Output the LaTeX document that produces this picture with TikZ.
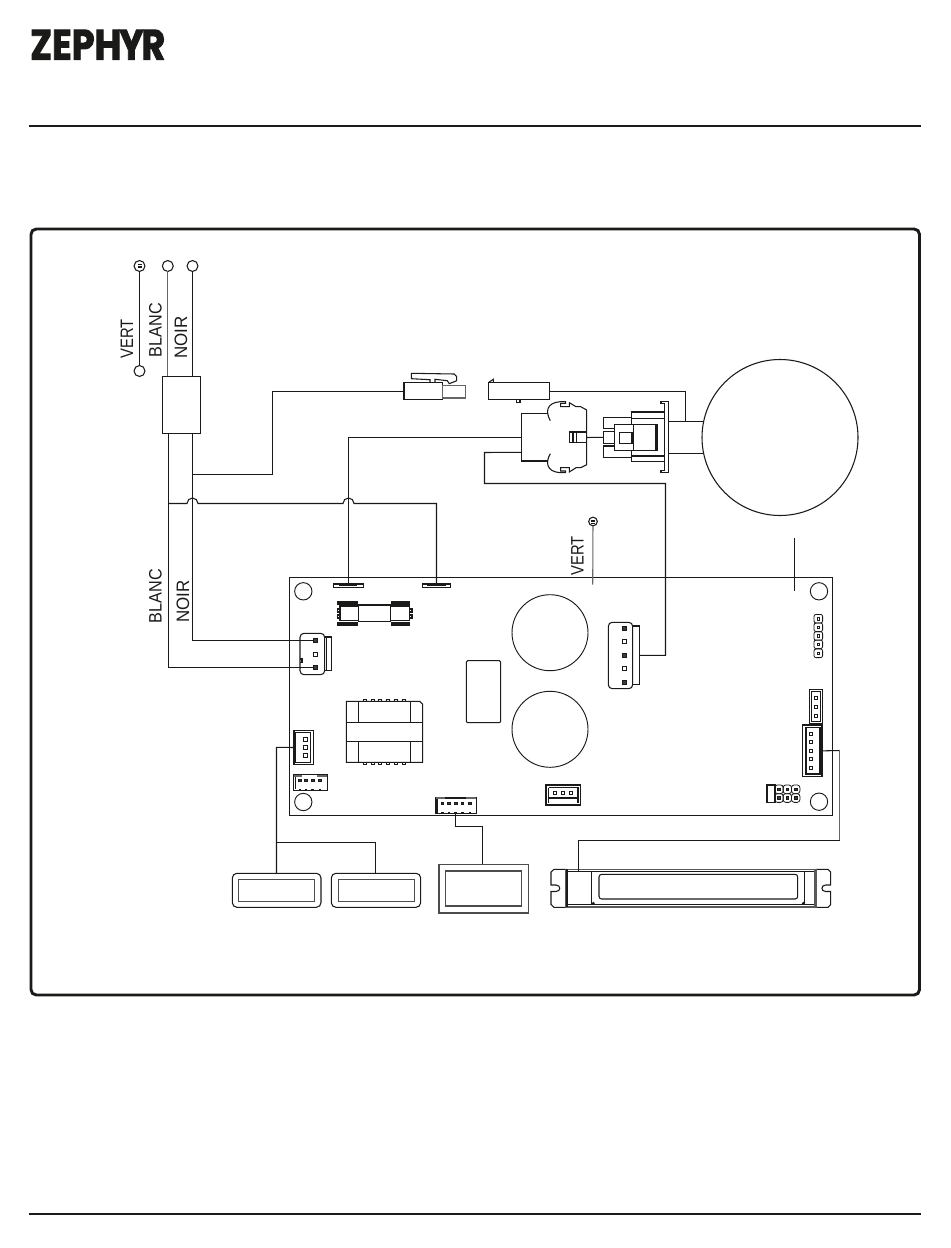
\documentclass[tikz,border=0pt]{standalone}
\usepackage{graphicx}
\usepackage{fontspec}
\setmainfont{Liberation Sans}
\newfontfamily\logofont{Poppins}[BoldFeatures={FakeBold=2.2}]
\usetikzlibrary{calc}
\definecolor{inkdark}{HTML}{1A1A18}
\tikzset{
    thinline/.style={line width=.8pt, color=inkdark},
    greyline/.style={line width=.8pt, color=black!60},
    partbox/.style={draw=inkdark, line width=.8pt, rectangle, inner sep=0pt, outer sep=0pt, anchor=north west},
    sized/.style 2 args={minimum width=#1*.75pt, minimum height=#2*.75pt},
    ringmark/.style={draw=inkdark, line width=.8pt, fill=white, circle, inner sep=0pt, outer sep=0pt, minimum size=8.2pt},
    holemark/.style={draw=inkdark, line width=.7pt, circle, inner sep=0pt, outer sep=0pt, minimum size=13pt},
    pinopen/.style={draw=inkdark, line width=.6pt, rectangle, inner sep=0pt, outer sep=0pt, minimum size=3pt},
    pinfull/.style={pinopen, fill=inkdark!85},
    wirelabel/.style={rotate=90, text=inkdark, font=\fontsize{13.5}{14}\selectfont, inner sep=0pt},
}
\newcommand{\narrowtext}[2][.82]{\scalebox{#1}[1]{#2}}
\begin{document}
\begin{tikzpicture}[x=.75pt, y=-.75pt]
    \useasboundingbox (0,0) rectangle (950,1248);
    % header and frame
    \node[anchor=north west, inner sep=0pt, text=inkdark] (logo) at (30,29.5) {\resizebox{101.25pt}{22.5pt}{\logofont\bfseries ZEPH\kern-.06em Y\kern-.06em R}};
    \coordinate (topleft) at (29,126);
    \coordinate (topright) at (921,126);
    \coordinate (footleft) at (29,1214);
    \coordinate (footright) at (921,1214);
    \draw[inkdark, line width=1.5pt] (topleft) -- (topright);
    \draw[inkdark, line width=1.5pt] (footleft) -- (footright);
    \draw[inkdark, line width=2.2pt, rounded corners=4pt] (31,229) rectangle (919.5,995);

    % supply wires
    \node[ringmark] (ringgreen) at (139.5,266) {};
    \draw[inkdark, line width=.35pt] (137.5,264.4) -- (141.5,264.4) (137.5,266) -- (141.5,266) (137.5,267.6) -- (141.5,267.6);
    \node[ringmark] (ringground) at (139.5,371) {};
    \node[ringmark] (ringwhite) at (167.8,266) {};
    \node[ringmark] (ringblack) at (192.5,266) {};
    \node[partbox, sized={38}{57}] (choke) at (162.3,376.3) {};
    \draw[thinline] (ringgreen) -- (ringground);
    \draw[greyline] (ringwhite) -- (ringwhite |- choke.north);
    \draw[thinline] (ringblack) -- (ringblack |- choke.north);
    \node[wirelabel] (labelvert) at (127,339) {\narrowtext{VERT}};
    \node[wirelabel] (labelblanc) at (155.5,330) {\narrowtext[.9]{BLANC}};
    \node[wirelabel] (labelnoir) at (181,337.5) {\narrowtext[.94]{NOIR}};
    \node[wirelabel] (labelblanctwo) at (155.5,596) {\narrowtext[.9]{BLANC}};
    \node[wirelabel] (labelnoirtwo) at (183,601.5) {\narrowtext[.94]{NOIR}};
    \node[wirelabel] (labelverttwo) at (577.5,556) {\narrowtext{VERT}};

    % plugs
    \node[partbox, sized={38.3}{17}] (plugleft) at (404,382.7) {};
    \node[partbox, draw=black!60, sized={23.4}{12.7}] (plugtail) at (442.3,385.3) {};
    \draw[thinline] (430,382.7) -- (430,379.7) -- (411.3,378.7) -- (411.3,373.3) -- (454,374) -- (456.7,376.7) -- (456.7,380.7) -- (449.3,383.7) -- (447.3,380.7) -- (435,379.3) -- (435,382.7);
    \node[partbox, sized={61}{17}] (plugright) at (488.3,382.7) {};
    \draw[thinline] (488.3,382.7) -- (493.3,379.3) -- (493.3,382.7);
    \draw[thinline] (516.7,399.7) rectangle (520,402.3);

    % motor
    \node[draw=inkdark, line width=.8pt, circle, inner sep=0pt, outer sep=0pt, minimum size=117pt] (motor) at (780,437.5) {};
    \node[partbox, sized={28}{11.4}] (housetop) at (603.3,417.3) {};
    \node[partbox, sized={11}{12}] (housemid) at (603.3,431.3) {};
    \node[partbox, sized={28}{11.3}] (housebot) at (603.3,446) {};
    \node[partbox, fill=white, sized={43}{26.4}] (housebody) at (614.3,424.3) {};
    \node[partbox, sized={12.7}{11.4}] (housecore) at (619.3,432.3) {};
    \draw[thinline] (633.3,424.3) -- (633.3,450.7);
    \draw[inkdark, line width=1.4pt] (656.3,424.3) -- (656.3,450.7);
    \node[partbox, sized={33}{6.3}] (barupper) at (631.3,412) {};
    \node[partbox, sized={33}{5.3}] (barlower) at (631.3,456) {};
    \draw[inkdark, line width=1.4pt] (631.3,412) -- (664.3,412);
    \draw[thinline] (664.3,403.3) -- (661,403.3) -- (661,401.3) -- (668.3,401.3) -- (668.3,472.7) -- (661,472.7) -- (661,470.7) -- (664.3,470.7) -- cycle;
    % socket outline
    \coordinate (socketw) at (521.3,437.5);
    \coordinate (socketlow) at (521.3,452.3);
    \coordinate (sockete) at (586.7,437.5);
    \draw[thinline] (550.3,420.7) .. controls (545.5,412) and (546,403) .. (560,401.7) -- (565.7,401.7) -- (565.7,403.3) -- (560.7,403.3) -- (560.7,406.7) -- (569.3,406.7) -- (569.3,402.7) -- (576,406.7) -- (580.7,406.7) -- (586.7,410) -- (586.7,464.7) -- (580.7,467.7) -- (576,467.7) -- (569.3,472) -- (569.3,467.7) -- (560.7,467.7) -- (560.7,471) -- (565.7,471) -- (565.7,472.7) -- (560,472.7) .. controls (546,471.5) and (545.5,462) .. (550.3,453.7);
    \draw[thinline] (547.7,413.3) -- (521.3,413.3) -- (521.3,461) -- (547.7,461);
    \node[partbox, sized={17.4}{10.3}] (socketpin) at (569.3,432) {};
    \draw[thinline] (573,432) -- (573,442.3);
    \draw[inkdark, line width=1.1pt] (576.7,432) -- (576.7,442.3);

    % board
    \node[partbox, sized={543}{238.4}] (board) at (289.3,577.3) {};
    \node[holemark] (holenw) at (303.3,591.3) {};
    \node[holemark] (holesw) at (303.3,802) {};
    \node[holemark] (holene) at (819,591.3) {};
    \node[holemark] (holese) at (819,801.7) {};
    \node[partbox, sized={30.4}{3.3}] (tableft) at (333.3,584) {};
    \node[partbox, sized={28.4}{3.3}] (tabright) at (422.3,584) {};
    \draw[inkdark, line width=1pt] (339,585.6) -- (357,585.6) (427,585.6) -- (446,585.6);
    % fuse
    \draw[thinline] (340,606) rectangle (358.3,620.5);
    \draw[thinline] (390.7,606) rectangle (409.7,620.5);
    \node[partbox, sized={32.4}{16.7}] (fusetube) at (358.3,605) {};
    \draw[inkdark, line width=2.6pt] (337.3,602.8) -- (358.3,602.8) (337.3,623.8) -- (358.3,623.8) (390.7,602.8) -- (409.7,602.8) (390.7,623.8) -- (409.7,623.8);
    \draw[thinline] (340,609) -- (337.5,609) -- (337.5,612) -- (340,612) (340,615) -- (337.5,615) -- (337.5,618) -- (340,618);
    \draw[thinline] (409.7,609) -- (412,609) -- (412,612) -- (409.7,612) (409.7,615) -- (412,615) -- (412,618) -- (409.7,618);
    % mains socket
    \node[partbox, sized={24.7}{41.4}, rounded corners=3pt] (mainssocket) at (300,633.3) {};
    \node[partbox, sized={7}{33.7}] (mainsbar) at (324.7,637) {};
    \draw[thinline] (326.2,637) -- (326.2,670.7);
    \draw[thinline] (300,659) -- (302,659) -- (302,662.7) -- (300,662.7);
    \node[pinfull] (mainsa) at (315.7,640.7) {};
    \node[pinopen] (mainsb) at (315.7,654) {};
    \node[pinfull] (mainsc) at (315.7,667.5) {};
    % transformer
    \draw[thinline] (346.3,701.3) -- (419.7,701.3) -- (422.7,704.3) -- (422.7,762.3) -- (346.3,762.3) -- cycle;
    \draw[thinline] (346.3,722.3) -- (422.7,722.3) (346.3,741.3) -- (422.7,741.3);
    \draw[thinline] (358.7,701.3) -- (358.7,722.3) (410.3,701.3) -- (410.3,722.3) (358.7,741.3) -- (358.7,762.3) (410.3,741.3) -- (410.3,762.3);
    \foreach \tick in {365,373,380.3,388.3,396,404}
        \draw[thinline] (\tick-1.5,701.3) rectangle (\tick+1.5,699.8) (\tick-1.5,762.3) rectangle (\tick+1.5,764.3);
    % capacitors and relay
    \node[draw=inkdark, line width=.7pt, circle, inner sep=0pt, outer sep=0pt, minimum size=57pt] (capupper) at (550,632.7) {};
    \node[draw=inkdark, line width=.7pt, circle, inner sep=0pt, outer sep=0pt, minimum size=57pt] (caplower) at (550,729.3) {};
    \node[partbox, sized={34.4}{62}, rounded corners=1pt] (relay) at (466.3,660.7) {};
    % motor socket on board
    \node[partbox, sized={24.4}{66.4}, rounded corners=3pt] (motorsocket) at (608.3,622.3) {};
    \node[partbox, sized={7}{58.7}] (motorbar) at (632.7,626) {};
    \foreach \py/\pk [count=\n] in {628.3/pinfull,641.7/pinopen,655/pinfull,668.7/pinopen,682/pinfull}
        \node[\pk] (motorpin\n) at (624,\py) {};
    % display socket
    \node[partbox, sized={20.4}{34.4}] (dispsocket) at (293.3,730.3) {};
    \node[partbox, sized={15}{29.7}] (dispinner) at (295.7,732.7) {};
    \draw[inkdark, line width=1.6pt] (294,730.3) -- (294,764.7);
    \foreach \py [count=\n] in {739.3,747.3,755.3}
        \node[pinopen, minimum size=2.4pt] (disppin\n) at (305.3,\py) {};
    \node[partbox, sized={34.4}{16}] (auxsocket) at (293.3,774.7) {};
    \draw[black!60, line width=1.5pt] (294,775.7) -- (302,775.7) (317,775.7) -- (327,775.7);
    \foreach \px [count=\n] in {300,306,312.7,320}{
        \node[pinfull, minimum size=2pt] (auxpin\n) at (\px,780.3) {};
        \draw[thinline] (\px-.8,790.7) -- (\px+.8,790.7) -- (\px+.8,789.5) -- (\px-.8,789.5) -- cycle;
    }
    \draw[thinline] (295.3,777) -- (295.3,789);
    % lower sockets
    \node[partbox, sized={41.4}{15.7}] (keysocket) at (435.3,798) {};
    \draw[black!60, line width=1.5pt] (436,798.3) -- (445,798.3) (466,798.3) -- (476,798.3);
    \draw[thinline] (437,799) -- (437,812.5);
    \foreach \px [count=\n] in {442.3,449,455.7,462.3,470}{
        \node[pinfull, minimum size=2pt] (keypin\n) at (\px,803.3) {};
        \draw[thinline] (\px-.8,813.7) -- (\px+.8,813.7) -- (\px+.8,812.5) -- (\px-.8,812.5) -- cycle;
    }
    \node[partbox, sized={34.7}{20}] (fansocket) at (546,785) {};
    \draw[inkdark, line width=1.5pt] (546,804.5) -- (580.7,804.5);
    \draw[thinline] (548.5,787.5) -- (578,787.5) -- (578,803) (548.5,787.5) -- (548.5,803) (548.5,798) -- (578,798);
    \foreach \px [count=\n] in {555,563,571.3}
        \node[pinopen, minimum size=2.2pt] (fanpin\n) at (\px,793.3) {};
    % right hand pins
    \foreach \py [count=\n] in {618.7,627.3,636,644.3,653.3}{
        \node[partbox, anchor=center, line width=.6pt, rounded corners=1.5pt, sized={8.6}{8.6}] (headbox\n) at (818.3,\py) {};
        \node[pinopen, line width=.45pt, minimum size=2.2pt] (headpin\n) at (818.3,\py) {};
    }
    \node[partbox, sized={13.4}{34.7}] (tempsocket) at (809.3,689.3) {};
    \draw[thinline] (811.5,691.8) -- (820.5,691.8) -- (820.5,721.5) -- (811.5,721.5) -- cycle;
    \foreach \py [count=\n] in {698.3,707,715.7}
        \node[pinopen, minimum size=2.2pt] (temppin\n) at (816.3,\py) {};
    \node[partbox, sized={20}{51.7}] (lampsocket) at (802.7,725) {};
    \draw[thinline] (806,727.5) -- (820,727.5) -- (820,774) -- (806,774) -- cycle;
    \draw[inkdark, line width=1.2pt] (822,725) -- (822,776.7);
    \foreach \py [count=\n] in {734.3,742.3,751.3,759.3,768}
        \node[pinopen, minimum size=2.2pt] (lamppin\n) at (811.3,\py) {};
    \node[partbox, sized={8.3}{17.3}] (jumperblock) at (766.7,785) {};
    \draw[inkdark, line width=1.3pt] (767.4,785) -- (767.4,802.3);
    \foreach \px [count=\n] in {779,787.3,795.7}{
        \node[partbox, anchor=center, line width=.6pt, rounded corners=2pt, sized={8.4}{8.7}] (jumpboxup\n) at (\px,789.3) {};
        \node[partbox, anchor=center, line width=.6pt, rounded corners=2pt, sized={8.4}{8.7}] (jumpboxdn\n) at (\px,798) {};
        \node[pinfull, minimum size=1.8pt] (jumpup\n) at (\px,789.3) {};
        \node[pinfull, minimum size=1.8pt] (jumpdn\n) at (\px,798) {};
    }

    % ground stud on the board
    \node[ringmark, minimum size=6.5pt] (ringboard) at (593,521.5) {};
    \draw[inkdark, line width=.3pt] (591,520.2) -- (595,520.2) (591,521.5) -- (595,521.5) (591,522.8) -- (595,522.8);
    \coordinate (boardend) at (592.7,584.7);
    \draw[greyline] (ringboard) -- (boardend);
    \coordinate (bracetop) at (794.5,538);
    \coordinate (braceend) at (794.5,590.7);
    \draw[thinline] (bracetop) -- (braceend);

    % wiring
    \coordinate (whitedrop) at (168.5,433.3);
    \coordinate (blackdrop) at (192.5,433.3);
    \draw[thinline] (whitedrop) -- (whitedrop |- mainsc) -- (mainsc);
    \draw[thinline] (blackdrop) -- (blackdrop |- mainsa) -- (mainsa);
    \coordinate (blackturn) at (272.5,474.5);
    \draw[thinline] (blackdrop |- blackturn) -- (blackturn) -- (blackturn |- plugleft.west) -- (plugleft.west);
    \coordinate (whiteleft) at (168.5,503.5);
    \coordinate (hopone) at (187,503.5);
    \coordinate (tabturn) at (tabright.north |- whiteleft);
    \draw[thinline] (whiteleft) -- (hopone) arc (180:360:5.5) -- (343,503.5) arc (180:360:5.5) -- (tabturn) -- (tabright.north);
    \draw[thinline] (tableft.north) -- (tableft.north |- socketw) -- (socketw);
    \draw[thinline] (sockete) -- (housemid.west);
    \draw[thinline] (plugright.east) -- (685.5,391.2) -- (685.5,421.5);
    \coordinate (motorwa) at (668.3,421.5);
    \coordinate (motorwb) at (668.3,453.5);
    \draw[thinline] (motorwa) -- (702.8,421.5);
    \draw[thinline] (motorwb) -- (702.8,453.5);
    \draw[thinline] (motorbar.east) -- (665.5,655.3) -- (665.5,483.5) -- (484.5,483.5) -- (484.5,452.5) -- (socketlow);

    % display modules
    \node[partbox, sized={88.7}{34}, rounded corners=3.5pt] (lampa) at (232.3,873.3) {};
    \node[partbox, draw=black!70, sized={76}{21.6}] (lampainner) at (238.3,879.7) {};
    \node[partbox, sized={89.4}{34}, rounded corners=3.5pt] (lampb) at (331.3,873.3) {};
    \node[partbox, draw=black!70, sized={76}{21.6}] (lampbinner) at (338.3,879.7) {};
    \node[partbox, draw=black!70, sized={89.3}{48.7}] (keypad) at (439,864.3) {};
    \node[partbox, draw=black!70, sized={76}{35}] (keypadinner) at (445.7,871) {};
    \coordinate (lampturn) at (276.5,747.3);
    \coordinate (lampsplit) at (276.5,842.5);
    \coordinate (lampsplitb) at (375.5,842.5);
    \draw[thinline] (dispsocket.west) -- (lampturn) -- (lampturn |- lampa.north);
    \draw[thinline] (lampsplit) -- (lampsplitb) -- (lampsplitb |- lampb.north);
    \coordinate (keyturn) at (455.5,826.5);
    \coordinate (keyturnb) at (482.5,826.5);
    \draw[thinline] (455.5,813.7) -- (keyturn) -- (keyturnb) -- (keyturnb |- keypad.north);

    % LED strip
    \draw[thinline] (566.7,869.3) -- (554,869.3) -- (551,872) -- (551,885) -- (556,885) .. controls (561,885) and (561,891.5) .. (556,891.5) -- (551,891.5) -- (551,904.5) -- (554,907.3) -- (566.7,907.3);
    \draw[thinline] (816,869.3) -- (828,869.3) -- (830.7,872) -- (830.7,885) -- (825.7,885) .. controls (820.7,885) and (820.7,891.5) .. (825.7,891.5) -- (830.7,891.5) -- (830.7,904.5) -- (828,907.3) -- (816,907.3);
    \node[partbox, draw=black!65, line width=1.2pt, sized={250}{37.4}] (ledbody) at (566,869.3) {};
    \draw[thinline] (567.5,871.5) -- (814.5,871.5) (567.5,904.5) -- (814.5,904.5);
    \draw[inkdark, line width=1.2pt] (567,869.3) -- (567,906.7);
    \draw[black!65, line width=2pt] (815.3,869.3) -- (815.3,906.7);
    \draw[thinline] (591.7,871.5) -- (591.7,904.5) (804.3,871.5) -- (804.3,904.5);
    \node[partbox, sized={198.7}{24.7}, rounded corners=2pt] (ledscreen) at (599,874.3) {};
    \fill[inkdark] (593.3,903.3) circle (1.6) (803.3,903.3) circle (1.6);
    \coordinate (ledturn) at (839.5,750.5);
    \coordinate (ledrun) at (839.5,840.5);
    \coordinate (ledrunb) at (578.5,840.5);
    \coordinate (ledend) at (578.5,871);
    \draw[thinline] (lampsocket.east) -- (ledturn);
    \draw[greyline] (ledturn) -- (ledrun);
    \draw[thinline] (ledrun) -- (ledrunb) -- (ledend);
\end{tikzpicture}
\end{document}
